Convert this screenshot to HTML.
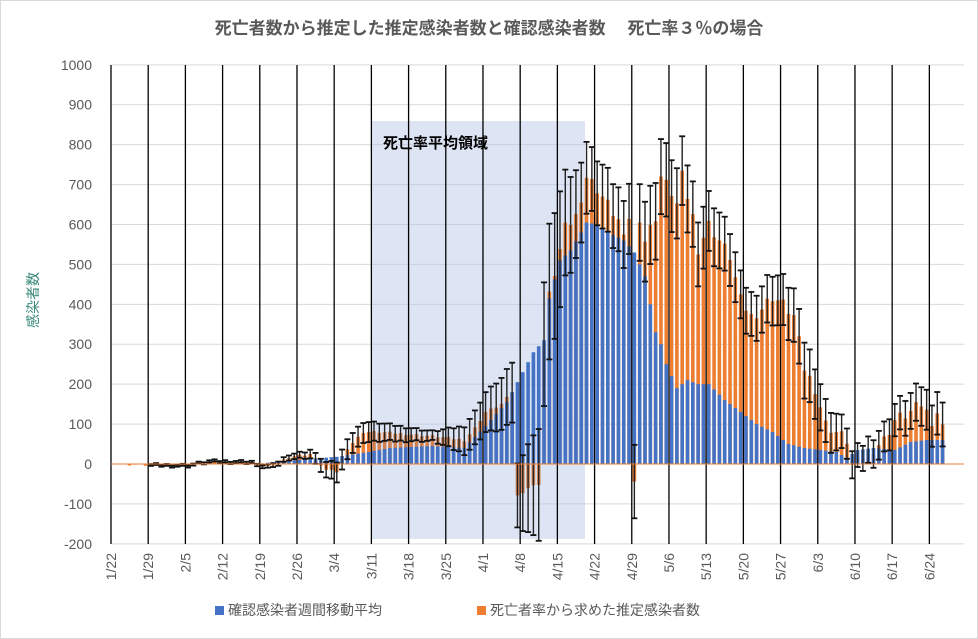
<!DOCTYPE html>
<html><head><meta charset="utf-8"><style>
body{margin:0;background:#fff;font-family:"Liberation Sans","Noto Sans CJK JP",sans-serif}
</style></head><body>
<svg id="s" width="978" height="639" xmlns="http://www.w3.org/2000/svg" style="display:block">
<rect x="0.5" y="0.5" width="977" height="638" fill="#fff" stroke="#d9d9d9"/>
<text x="489" y="34" text-anchor="middle" font-size="17" font-weight="bold" fill="#595959" font-family="Liberation Sans,Noto Sans CJK JP,sans-serif">死亡者数から推定した推定感染者数と確認感染者数　 死亡率３％の場合</text>
<g id="g"></g>
</svg>
<script>
const g=document.getElementById('g');let h='';
const Y=v=>464-v*0.39917, X=d=>111+d*5.314;
for(let v=-200;v<=1000;v+=100){h+=`<line x1="111" x2="964" y1="${Y(v)}" y2="${Y(v)}" stroke="#d9d9d9"/>`;
h+=`<text x="92" y="${Y(v)+5}" text-anchor="end" font-size="14" fill="#595959">${v}</text>`}
h+=`<rect x="372" y="121" width="213" height="418" fill="#b4c3e6" opacity="0.45"/>`;
h+=`<text x="383" y="148" font-size="15" font-weight="bold" fill="#000">死亡率平均領域</text>`;
const labs=['1/22','1/29','2/5','2/12','2/19','2/26','3/4','3/11','3/18','3/25','4/1','4/8','4/15','4/22','4/29','5/6','5/13','5/20','5/27','6/3','6/10','6/17','6/24'];
labs.forEach((l,i)=>{const x=X(i*7);h+=`<line x1="${x}" x2="${x}" y1="65" y2="544" stroke="#000" stroke-width="1.3"/>`;
h+=`<text transform="translate(${x+5},553) rotate(-90)" text-anchor="end" font-size="14" fill="#595959">${l}</text>`});
function interp(k,d){for(let i=0;i<k.length-1;i++){if(d>=k[i][0]&&d<=k[i+1][0]){const t=(d-k[i][0])/(k[i+1][0]-k[i][0]);return k[i][1]+(k[i+1][1]-k[i][1])*t}}return k[k.length-1][1]}
const B=[[0,0],[27,0],[30,5],[36,12],[42,18],[48,30],[52,40],[60,45],[66,40],[70,95],[74,155],[76,205],[79,280],[81,310],[82,415],[84,510],[86,535],[88,580],[89,605],[91,600],[93,580],[96,560],[98,530],[100,470],[101,400],[102,330],[103,300],[104,250],[106,190],[108,210],[110,200],[112,200],[115,160],[118,130],[121,100],[124,80],[127,50],[130,40],[133,35],[136,30],[138,15],[140,35],[143,40],[147,35],[150,55],[153,60],[156,60]];
const O=[[0,0],[7,-3],[14,-4],[18,6],[26,5],[27,-5],[30,-6],[33,18],[37,25],[40,-15],[42,-20],[44,40],[47,80],[50,80],[55,75],[60,70],[66,60],[68,90],[70,130],[73,150],[75,180],[76,-80],[78,-60],[80,-50],[81,300],[82,420],[83,480],[85,590],[87,620],[89,720],[91,690],[93,650],[95,610],[96,560],[97,620],[98,-50],[99,620],[100,560],[102,620],[103,720],[105,680],[106,650],[107,720],[109,620],[110,540],[112,600],[114,560],[116,520],[118,410],[120,370],[122,390],[124,420],[126,400],[128,370],[130,240],[132,190],[134,100],[136,80],[138,60],[139,-5],[141,20],[143,40],[145,60],[147,110],[150,130],[152,150],[154,110],[155,130],[156,90]];
const E=[[0,2],[27,3],[36,8],[42,25],[48,25],[60,12],[70,50],[76,80],[82,170],[86,120],[90,80],[95,80],[100,100],[110,80],[120,55],[130,70],[140,30],[150,45],[156,55]];
let eb='';
for(let d=0;d<=156;d++){
 let b=interp(B,d), o=interp(O,d)+((d*37)%11-5)*(d>80?3:0.6), e=interp(E,d);
 const x=X(d)+2.6, w=3.6;
 if(d>=1){const y0=Y(0),y1=Y(o);h+=`<rect x="${x-w/2}" y="${Math.min(y0,y1)}" width="${w}" height="${Math.abs(y1-y0)}" fill="${d<=81&&d>=49?'#d07f4f':'#ed7d31'}"/>`;
  if(d>=7){const a=Y(o+e),c=Y(o-e);eb+=`<line x1="${x}" x2="${x}" y1="${a}" y2="${c}" stroke="#222" stroke-width="1.4"/><line x1="${x-3}" x2="${x+3}" y1="${a}" y2="${a}" stroke="#111" stroke-width="1.8"/><line x1="${x-3}" x2="${x+3}" y1="${c}" y2="${c}" stroke="#111" stroke-width="1.8"/>`}}
 if(b>1)h+=`<rect x="${x-w/2}" y="${Y(b)}" width="${w}" height="${Y(0)-Y(b)}" fill="#4472c4"/>`;
}
h+=eb;
h+=`<line x1="111" x2="964" y1="464" y2="464" stroke="#ed7d31" stroke-width="1"/>`;
h+=`<text transform="translate(38,300) rotate(-90)" text-anchor="middle" font-size="14" fill="#3b8a7a">感染者数</text>`;
h+=`<rect x="215" y="606" width="9" height="9" fill="#4472c4"/><text x="228" y="615" font-size="14" fill="#595959">確認感染者週間移動平均</text>`;
h+=`<rect x="477" y="606" width="9" height="9" fill="#ed7d31"/><text x="490" y="615" font-size="14" fill="#595959">死亡者率から求めた推定感染者数</text>`;
g.innerHTML=h;
</script>
</body></html>
